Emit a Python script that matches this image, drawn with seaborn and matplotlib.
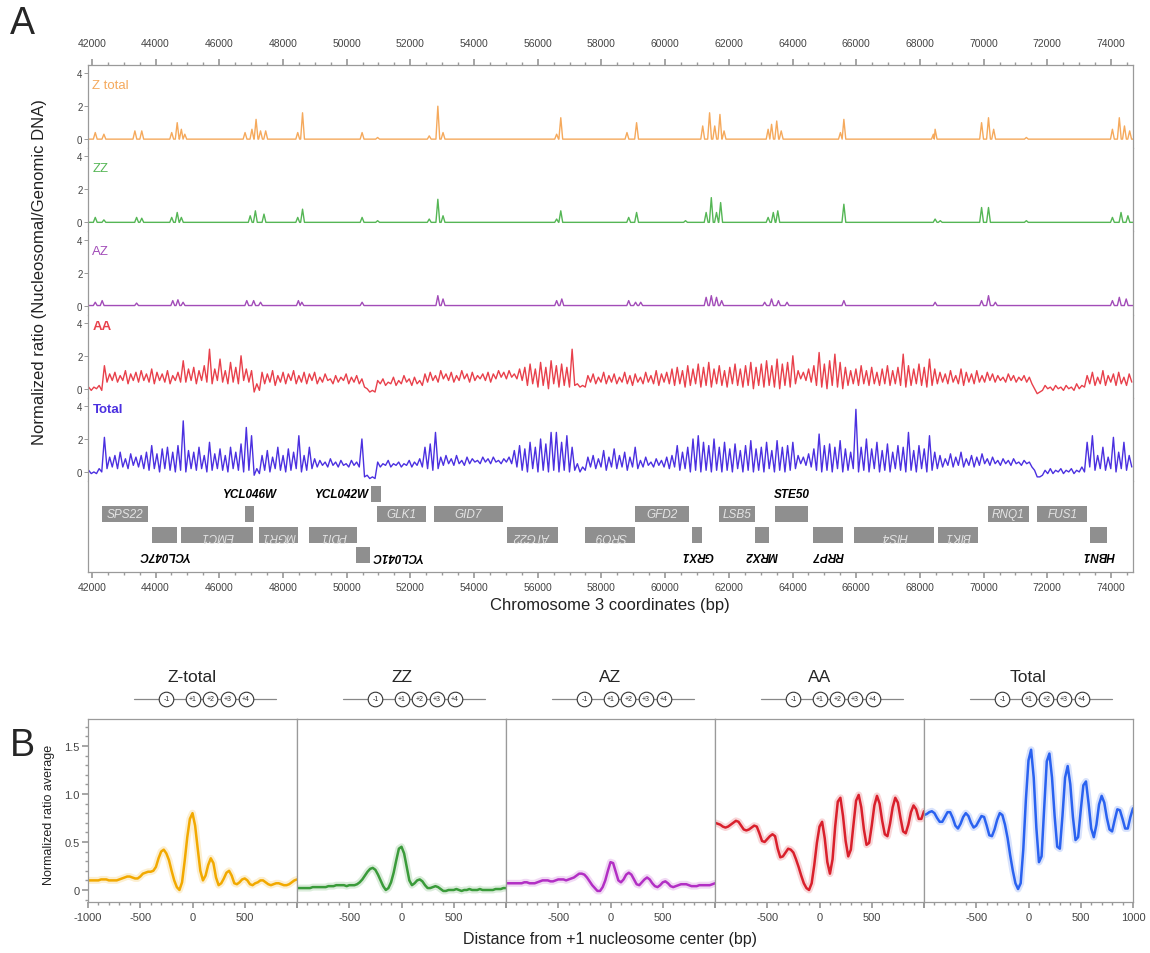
import numpy as np
import seaborn as sns
import matplotlib.pyplot as plt
from matplotlib.transforms import blended_transform_factory
from matplotlib.ticker import MultipleLocator

sns.set_theme(style='white')
plt.rcParams['font.family'] = ['Liberation Sans', 'DejaVu Sans']

# PANEL A DATA ------------------------------------------------------------
# sparse peaks of the Z containing tracks: position (bp) and height
zt_pos = [42108, 42379, 43352, 43568, 44508, 44681, 44811, 44919, 46811, 47027, 47157, 47297, 47459,
          48465, 48616, 50486, 50973, 52594, 52864, 53027, 56594, 56724,
          58802, 59104, 61180, 61396, 61558, 61721, 61850, 63234, 63342, 63504, 63645,
          65504, 65612, 68423, 68477, 69936, 70153, 70315, 71342, 74044, 74260, 74422, 74585]
zt_h = [0.4, 0.3, 0.5, 0.5, 0.4, 1.0, 0.6, 0.3, 0.4, 0.6, 1.2, 0.5, 0.5,
        0.4, 1.6, 0.4, 0.1, 0.2, 2.0, 0.4, 0.3, 1.3,
        0.4, 1.0, 0.8, 1.6, 0.8, 1.5, 0.5, 0.6, 0.9, 1.1, 0.5,
        0.4, 1.2, 0.3, 0.6, 1.0, 1.3, 0.6, 0.1, 0.6, 1.3, 0.8, 0.5]

zz_pos = [42108, 42379, 43406, 43568, 44508, 44681, 44811, 46973, 47135, 47405, 48465, 48616,
          50486, 50973, 52594, 52864, 53027, 56594, 56724,
          58856, 59104, 60640, 61288, 61450, 61613, 61743, 63234, 63396, 63537, 65612,
          68477, 68639, 69936, 70153, 71342, 74044, 74314, 74530]
zz_h = [0.3, 0.15, 0.3, 0.25, 0.3, 0.6, 0.3, 0.4, 0.7, 0.5, 0.3, 0.8,
        0.3, 0.1, 0.2, 1.4, 0.4, 0.2, 0.7,
        0.3, 0.6, 0.1, 0.6, 1.5, 0.6, 1.2, 0.3, 0.6, 0.7, 1.1,
        0.2, 0.1, 0.9, 0.9, 0.1, 0.3, 0.6, 0.4]

az_pos = [42108, 42325, 43406, 44541, 44703, 44865, 46865, 47081, 47297, 48486, 48594,
          50486, 52864, 53027, 56594, 56756,
          58856, 59072, 59234, 61288, 61450, 61613, 61775, 63126, 63342, 63558, 63828,
          65612, 68477, 69936, 70153, 70369, 74044, 74260, 74477]
az_h = [0.2, 0.3, 0.15, 0.3, 0.35, 0.2, 0.3, 0.3, 0.2, 0.3, 0.2,
        0.2, 0.6, 0.4, 0.3, 0.4,
        0.3, 0.2, 0.2, 0.5, 0.6, 0.5, 0.3, 0.2, 0.4, 0.3, 0.2,
        0.3, 0.2, 0.3, 0.6, 0.2, 0.3, 0.5, 0.4]

# AA and Total: one nucleosome peak and the linker trough after it, ~165 bp apart
aa_peak = [0.1, 0.1, 0.2, 1.4, 0.9, 1.0, 0.8, 1.1, 0.9, 1.0,
           1.1, 0.9, 1.2, 1.0, 0.9, 1.1, 0.8, 1.0, 1.7, 1.2,
           1.3, 1.1, 1.4, 2.4, 1.2, 1.8, 1.1, 1.6, 1.3, 2.0,
           1.2, 1.1, 0.3, 1.0, 0.9, 1.1, 0.8, 1.0, 0.9, 1.1,
           0.8, 1.0, 0.9, 1.0, 0.7, 0.9, 0.6, 0.8, 0.7, 0.9,
           0.7, 0.8, 0.6, 0.0, -0.1, 0.5, 0.6, 0.4, 0.7, 0.5,
           0.8, 0.6, 0.7, 0.5, 0.9, 1.0, 0.8, 1.1, 0.9, 1.0,
           0.8, 1.1, 0.9, 1.0, 0.8, 0.9, 1.0, 0.9, 1.1, 1.0,
           1.1, 0.9, 1.2, 1.3, 1.5, 1.2, 1.6, 1.3, 1.7, 1.4,
           1.5, 1.3, 2.4, 0.3, 0.2, 0.8, 0.9, 0.7, 1.0, 0.8,
           0.9, 0.7, 1.0, 0.8, 0.9, 0.7, 1.0, 0.8, 1.1, 0.9,
           1.0, 1.2, 1.3, 1.1, 1.4, 1.2, 1.5, 1.3, 1.6, 1.2,
           1.4, 1.1, 1.3, 1.5, 1.2, 1.4, 1.6, 1.3, 1.5, 1.7,
           1.4, 1.8, 1.5, 1.6, 2.0, 1.1, 1.0, 1.2, 1.4, 2.2,
           1.5, 1.7, 2.1, 1.6, 1.3, 1.1, 1.2, 1.4, 1.1, 1.3,
           1.0, 1.2, 1.4, 1.1, 1.3, 2.1, 1.4, 1.2, 1.5, 1.3,
           1.8, 1.2, 1.0, 0.9, 1.1, 0.8, 1.2, 1.0, 0.9, 1.1,
           0.8, 1.0, 0.9, 0.8, 0.7, 0.9, 0.8, 0.7, 0.8, 0.7,
           0.0, -0.2, 0.2, 0.1, 0.2, 0.1, 0.2, 0.1, 0.3, 0.2,
           0.8, 1.0, 0.7, 1.1, 0.8, 0.9, 1.0, 0.7, 0.9]
aa_trough = [-0.1, 0.0, -0.1, 0.4, 0.5, 0.4, 0.5, 0.3, 0.5, 0.4,
             0.5, 0.4, 0.3, 0.5, 0.4, 0.3, 0.5, 0.4, 0.4, 0.5,
             0.3, 0.5, 0.4, 0.3, 0.5, 0.4, 0.3, 0.4, 0.3, 0.5,
             0.4, -0.2, -0.1, 0.3, 0.4, 0.2, 0.4, 0.3, 0.5, 0.3,
             0.4, 0.3, 0.5, 0.3, 0.4, 0.5, 0.3, 0.4, 0.5, 0.3,
             0.4, 0.3, 0.1, -0.2, -0.2, 0.3, 0.2, 0.3, 0.2, 0.3,
             0.4, 0.2, 0.3, 0.2, 0.4, 0.5, 0.4, 0.6, 0.5, 0.4,
             0.5, 0.6, 0.4, 0.5, 0.6, 0.5, 0.4, 0.6, 0.7, 0.6,
             0.7, 0.6, 0.5, 0.2, 0.3, 0.1, 0.2, 0.0, 0.3, 0.1,
             0.2, 0.1, 0.2, 0.1, 0.1, 0.4, 0.3, 0.4, 0.3, 0.4,
             0.3, 0.4, 0.3, 0.2, 0.4, 0.3, 0.4, 0.3, 0.2, 0.4,
             0.3, 0.2, 0.3, 0.1, 0.2, 0.3, 0.1, 0.2, 0.1, 0.3,
             0.2, 0.1, 0.3, 0.2, 0.1, 0.2, 0.0, 0.2, 0.1, 0.2,
             0.1, 0.0, 0.2, 0.1, 0.3, 0.6, 0.5, 0.4, 0.2, 0.1,
             0.0, 0.2, 0.1, 0.0, 0.2, 0.3, 0.2, 0.3, 0.2, 0.3,
             0.2, 0.3, 0.2, 0.3, 0.2, 0.1, 0.2, 0.3, 0.2, 0.1,
             0.2, 0.3, 0.4, 0.3, 0.4, 0.3, 0.2, 0.4, 0.3, 0.4,
             0.4, 0.5, 0.4, 0.5, 0.4, 0.5, 0.4, 0.5, 0.4, 0.3,
             -0.3, -0.1, 0.0, -0.1, 0.0, -0.1, 0.0, -0.1, 0.0, 0.1,
             0.3, 0.2, 0.3, 0.2, 0.4, 0.2, 0.3, 0.2, 0.4]
tot_peak = [0.1, 0.0, 0.2, 2.1, 0.9, 1.0, 1.2, 0.8, 1.1, 0.9,
            1.0, 1.2, 1.6, 1.1, 1.4, 1.5, 1.2, 1.6, 3.1, 1.3,
            1.2, 1.5, 1.0, 1.8, 1.1, 1.4, 1.0, 1.5, 1.2, 1.7,
            2.7, 2.2, 0.2, 1.0, 1.3, 0.9, 1.5, 1.0, 1.4, 1.2,
            2.2, 1.0, 1.5, 0.8, 0.7, 0.6, 0.8, 0.6, 0.7, 0.5,
            0.7, 0.6, 2.0, -0.2, -0.3, 0.6, 0.5, 0.7, 0.5, 0.6,
            0.5, 0.7, 0.6, 0.8, 1.5, 1.7, 2.4, 0.9, 1.0, 0.8,
            1.0, 0.7, 0.9, 0.8, 0.7, 0.9, 0.8, 0.9, 0.7, 0.8,
            0.9, 1.3, 1.6, 1.4, 1.8, 1.5, 2.0, 1.7, 2.4, 2.4,
            1.8, 2.2, 1.5, 0.5, 0.3, 0.9, 1.0, 0.8, 1.3, 0.9,
            1.4, 1.0, 1.2, 0.9, 1.5, 0.7, 0.9, 0.6, 0.8, 0.7,
            0.9, 1.0, 1.6, 1.2, 1.5, 2.0, 2.2, 1.8, 1.6, 2.0,
            1.5, 1.8, 1.4, 1.7, 1.3, 1.6, 1.9, 1.4, 1.5, 1.8,
            1.3, 1.9, 1.5, 1.6, 1.8, 1.0, 0.9, 1.1, 1.4, 2.3,
            1.6, 1.7, 1.5, 1.9, 1.4, 1.2, 3.8, 1.5, 2.0, 1.4,
            1.8, 1.3, 1.7, 1.2, 1.6, 1.5, 2.4, 1.3, 1.6, 1.4,
            2.2, 1.2, 1.0, 0.8, 1.1, 0.9, 1.2, 0.8, 1.0, 0.9,
            1.1, 0.8, 0.9, 0.7, 0.8, 0.7, 0.8, 0.6, 0.7, 0.6,
            0.1, -0.3, 0.1, 0.2, 0.1, 0.2, 0.1, 0.2, 0.1, 0.3,
            1.8, 2.2, 1.0, 1.5, 0.9, 2.1, 1.2, 1.8, 1.0]
tot_trough = [-0.1, -0.1, 0.0, 0.2, 0.3, 0.2, 0.3, 0.2, 0.4, 0.3,
              0.2, 0.1, 0.2, 0.0, 0.2, 0.1, 0.0, 0.1, 0.0, 0.2,
              0.1, 0.2, 0.0, 0.1, 0.2, 0.1, 0.0, 0.2, 0.1, 0.0,
              0.1, -0.2, -0.1, 0.1, 0.0, 0.2, 0.1, 0.0, 0.1, 0.2,
              0.0, 0.1, 0.2, 0.3, 0.4, 0.3, 0.4, 0.3, 0.4, 0.3,
              0.4, 0.3, -0.3, -0.4, -0.4, 0.3, 0.4, 0.3, 0.4, 0.3,
              0.4, 0.3, 0.4, 0.3, 0.2, 0.1, 0.2, 0.4, 0.5, 0.4,
              0.5, 0.4, 0.5, 0.6, 0.5, 0.6, 0.5, 0.6, 0.5, 0.6,
              0.5, 0.3, 0.1, 0.0, 0.2, 0.0, 0.1, 0.0, 0.1, 0.0,
              0.1, 0.0, 0.1, 0.0, 0.1, 0.3, 0.2, 0.3, 0.1, 0.3,
              0.2, 0.3, 0.1, 0.3, 0.2, 0.3, 0.4, 0.3, 0.4, 0.3,
              0.2, 0.3, 0.1, 0.2, 0.0, 0.1, 0.0, 0.1, 0.0, 0.1,
              0.0, 0.1, 0.0, 0.2, 0.0, 0.1, 0.0, 0.1, 0.0, 0.2,
              0.0, 0.1, 0.0, 0.1, 0.2, 0.5, 0.4, 0.3, 0.1, 0.0,
              0.1, 0.0, 0.2, 0.0, 0.1, 0.2, 0.0, 0.1, 0.0, 0.2,
              0.0, 0.1, 0.0, 0.2, 0.1, 0.0, 0.1, 0.0, 0.2, 0.0,
              0.1, 0.2, 0.3, 0.4, 0.3, 0.4, 0.3, 0.4, 0.3, 0.4,
              0.5, 0.4, 0.5, 0.4, 0.5, 0.4, 0.5, 0.4, 0.5, 0.3,
              -0.3, -0.2, -0.1, -0.1, 0.0, -0.1, 0.0, -0.1, 0.0, 0.0,
              0.3, 0.1, 0.2, 0.1, 0.2, 0.0, 0.2, 0.1, 0.3]

# genes: name, start, end (bp), strand
gene_names = ['SPS22', 'YCL047C', 'EMC1', 'YCL046W', 'MGR1', 'PDI1', 'YCL042W', 'YCL041C',
              'GLK1', 'GID7', 'ATG22', 'SRO9', 'GFD2', 'GRX1', 'LSB5', 'MRX2', 'STE50',
              'RRP7', 'HIS4', 'BIK1', 'RNQ1', 'FUS1', 'HBN1']
gene_start = [42310, 43875, 44810, 46810, 47250, 48810, 50750, 50280, 50940, 52750, 55030, 57500,
              59060, 60840, 61690, 62810, 63440, 64650, 65940, 68560, 70125, 71690, 73340]
gene_end = [43750, 44660, 47060, 47090, 48470, 50340, 51090, 50720, 52500, 54910, 56625, 59060,
            60750, 61160, 62810, 63250, 64500, 65600, 68440, 69810, 71410, 73250, 73880]
gene_strand = ['W', 'C', 'C', 'W', 'C', 'C', 'W', 'C', 'W', 'W', 'C', 'C',
               'W', 'C', 'W', 'C', 'W', 'C', 'C', 'C', 'W', 'W', 'C']

# PANEL B DATA: profile values every 25 bp from -1000 to 1000 ------------
ztot_avg = [0.10, 0.10, 0.10, 0.10, 0.10, 0.11, 0.11, 0.11,
            0.10, 0.10, 0.10, 0.10, 0.11, 0.12, 0.13, 0.14,
            0.14, 0.13, 0.12, 0.12, 0.14, 0.17, 0.18, 0.19,
            0.19, 0.20, 0.24, 0.33, 0.40, 0.42, 0.38, 0.31,
            0.20, 0.10, 0.03, 0.00, 0.08, 0.30, 0.55, 0.74,
            0.80, 0.67, 0.43, 0.20, 0.10, 0.15, 0.26, 0.33,
            0.28, 0.13, 0.05, 0.07, 0.12, 0.18, 0.20, 0.15,
            0.07, 0.06, 0.08, 0.11, 0.12, 0.10, 0.06, 0.05,
            0.07, 0.08, 0.10, 0.10, 0.08, 0.06, 0.05, 0.06,
            0.07, 0.07, 0.06, 0.05, 0.05, 0.06, 0.08, 0.10,
            0.11]
zz_avg = [0.02, 0.02, 0.02, 0.02, 0.02, 0.02, 0.03, 0.03,
          0.03, 0.03, 0.03, 0.03, 0.04, 0.04, 0.04, 0.05,
          0.05, 0.05, 0.05, 0.04, 0.05, 0.05, 0.05, 0.06,
          0.08, 0.11, 0.15, 0.19, 0.22, 0.23, 0.21, 0.16,
          0.10, 0.04, 0.00, 0.02, 0.08, 0.18, 0.31, 0.43,
          0.45, 0.38, 0.24, 0.10, 0.05, 0.07, 0.10, 0.11,
          0.09, 0.05, 0.02, 0.02, 0.03, 0.04, 0.03, 0.01,
          -0.01, -0.01, 0.00, 0.00, 0.00, 0.01, 0.00, -0.01,
          0.00, 0.00, 0.01, 0.00, 0.00, 0.00, 0.01, 0.00,
          0.00, 0.00, 0.00, 0.00, 0.01, 0.01, 0.01, 0.02,
          0.02]
az_avg = [0.07, 0.07, 0.07, 0.07, 0.07, 0.07, 0.07, 0.08,
          0.08, 0.07, 0.07, 0.07, 0.08, 0.09, 0.10, 0.10,
          0.10, 0.09, 0.09, 0.10, 0.11, 0.11, 0.11, 0.10,
          0.11, 0.12, 0.13, 0.15, 0.17, 0.17, 0.16, 0.13,
          0.09, 0.05, 0.02, -0.01, -0.01, 0.03, 0.10, 0.20,
          0.29, 0.28, 0.19, 0.10, 0.08, 0.11, 0.16, 0.18,
          0.16, 0.11, 0.06, 0.05, 0.08, 0.11, 0.13, 0.11,
          0.07, 0.04, 0.03, 0.05, 0.08, 0.09, 0.07, 0.04,
          0.03, 0.04, 0.05, 0.06, 0.06, 0.06, 0.05, 0.04,
          0.04, 0.04, 0.05, 0.05, 0.05, 0.05, 0.05, 0.06,
          0.07]
aa_avg = [0.70, 0.69, 0.68, 0.66, 0.65, 0.66, 0.68, 0.70,
          0.72, 0.71, 0.67, 0.63, 0.62, 0.63, 0.65, 0.67,
          0.66, 0.59, 0.51, 0.50, 0.53, 0.56, 0.58, 0.56,
          0.43, 0.34, 0.35, 0.39, 0.43, 0.42, 0.39, 0.32,
          0.24, 0.15, 0.07, 0.02, 0.00, 0.07, 0.26, 0.49,
          0.66, 0.71, 0.54, 0.29, 0.17, 0.32, 0.66, 0.92,
          0.96, 0.77, 0.51, 0.35, 0.42, 0.68, 0.93, 0.99,
          0.86, 0.63, 0.47, 0.49, 0.67, 0.88, 0.98, 0.90,
          0.72, 0.58, 0.56, 0.69, 0.86, 0.96, 0.91, 0.75,
          0.61, 0.59, 0.68, 0.81, 0.88, 0.84, 0.74, 0.74,
          0.82]
tot_avg = [0.78, 0.79, 0.81, 0.82, 0.80, 0.75, 0.71, 0.71,
           0.76, 0.81, 0.81, 0.75, 0.67, 0.64, 0.69, 0.76,
           0.80, 0.77, 0.70, 0.65, 0.67, 0.72, 0.77, 0.76,
           0.67, 0.57, 0.56, 0.63, 0.73, 0.80, 0.78, 0.68,
           0.54, 0.36, 0.20, 0.07, 0.01, 0.07, 0.42, 0.94,
           1.35, 1.46, 1.17, 0.65, 0.29, 0.35, 0.85, 1.34,
           1.42, 1.17, 0.77, 0.45, 0.43, 0.77, 1.17, 1.29,
           1.10, 0.76, 0.52, 0.55, 0.83, 1.09, 1.13, 0.90,
           0.64, 0.55, 0.68, 0.89, 0.98, 0.91, 0.75, 0.63,
           0.61, 0.73, 0.84, 0.83, 0.74, 0.64, 0.64, 0.76,
           0.85]
prof_pos = np.arange(-1000, 1001, 25)
nuc_pos = [-250, 0, 170, 340, 510]
nuc_lab = ['-1', '+1', '+2', '+3', '+4']

# FIGURE -----------------------------------------------------------------
W, H = 1150, 954
fig = plt.figure(figsize=(W / 100, H / 100), dpi=100)
GRAY = '#9a9a9a'
TXT = '#444444'


def px_box(left, top, right, bottom):
    return [left / W, 1 - bottom / H, (right - left) / W, (bottom - top) / H]


XMIN, XMAX = 41880, 74690


def spike_line(pos, h):
    order = np.argsort(pos)
    p = np.asarray(pos, float)[order]
    v = np.asarray(h, float)[order]
    xs, ys = [XMIN], [0.0]
    for j in range(len(p)):
        lo = p[j] - 60 if j == 0 else max(p[j] - 60, (p[j - 1] + p[j]) / 2)
        hi = p[j] + 60 if j == len(p) - 1 else min(p[j] + 60, (p[j] + p[j + 1]) / 2)
        xs += [lo, p[j], hi]
        ys += [0.0, v[j], 0.0]
    xs.append(XMAX)
    ys.append(0.0)
    return np.array(xs), np.array(ys)


def nuc_line(peaks, troughs):
    n = min(len(peaks), len(troughs))
    x0 = XMIN + 20 + 165 * np.arange(n)
    xs = np.column_stack([x0, x0 + 82]).ravel()
    ys = np.column_stack([peaks[:n], troughs[:n]]).ravel()
    return xs, ys


fig.text(10 / W, 1 - 24 / H, 'A', fontsize=27, va='center', ha='left')
fig.text(10 / W, 1 - 746 / H, 'B', fontsize=27, va='center', ha='left')

# PART A: TRACKS
track_names = ['Z total', 'ZZ', 'AZ', 'AA', 'Total']
track_cols = ['#f5a95c', '#55b655', '#a24cb8', '#e8404b', '#4b30e0']
track_data = [spike_line(zt_pos, zt_h), spike_line(zz_pos, zz_h), spike_line(az_pos, az_h),
              nuc_line(aa_peak, aa_trough), nuc_line(tot_peak, tot_trough)]
top, bot = 66, 482
step = (bot - top) / 5
for i in range(5):
    ax = fig.add_axes(px_box(88, top + i * step, 1133, top + (i + 1) * step))
    xs, ys = track_data[i]
    sns.lineplot(x=xs, y=ys, ax=ax, color=track_cols[i], linewidth=1.0,
                 estimator=None, sort=False)
    ax.set_xlim(XMIN, XMAX)
    ax.set_ylim(-0.55, 4.5)
    ax.set_yticks([0, 2, 4])
    ax.set_yticklabels(['0', '2', '4'])
    ax.tick_params(axis='y', left=True, length=3, width=0.7, colors=GRAY,
                   labelcolor=TXT, labelsize=7, pad=1)
    for side in ['left', 'right', 'top', 'bottom']:
        ax.spines[side].set_color(GRAY)
        ax.spines[side].set_linewidth(0.9)
    ax.spines['bottom'].set_visible(False)
    if i == 0:
        ax.xaxis.set_ticks_position('top')
        ax.set_xticks(np.arange(42000, 74001, 2000))
        ax.xaxis.set_minor_locator(MultipleLocator(500))
        ax.tick_params(axis='x', which='both', top=True, bottom=False, labeltop=True,
                       labelbottom=False, colors=GRAY, labelcolor=TXT, labelsize=7.5, pad=8)
        ax.tick_params(axis='x', which='major', length=4)
        ax.tick_params(axis='x', which='minor', length=2)
    else:
        ax.spines['top'].set_visible(False)
        ax.set_xticks([])
    ax.set_xlabel('')
    ax.set_ylabel('')
    bold = 'bold' if i >= 3 else 'normal'
    ydrop = 3.3 if i < 3 else 3.8
    ax.text(42020, ydrop, track_names[i], color=track_cols[i], fontsize=9.5,
            fontweight=bold, ha='left', va='center')

# PART A: GENES
label_place = {'SPS22': 'in', 'YCL047C': 'below', 'EMC1': 'in', 'YCL046W': 'above', 'MGR1': 'in',
               'PDI1': 'in', 'YCL042W': 'left', 'YCL041C': 'right', 'GLK1': 'in', 'GID7': 'in',
               'ATG22': 'in', 'SRO9': 'in', 'GFD2': 'in', 'GRX1': 'below', 'LSB5': 'in',
               'MRX2': 'below', 'STE50': 'above', 'RRP7': 'below', 'HIS4': 'in', 'BIK1': 'in',
               'RNQ1': 'in', 'FUS1': 'in', 'HBN1': 'below'}
gene_row = {'YCL042W': 0, 'YCL041C': 3}
axg = fig.add_axes(px_box(88, 482, 1133, 573))
axg.set_xlim(XMIN, XMAX)
axg.set_ylim(3.83, -0.63)
for name, s, e, st in zip(gene_names, gene_start, gene_end, gene_strand):
    row = gene_row.get(name, 1 if st == 'W' else 2)
    axg.barh(row, e - s, left=s, height=0.8, color='#8f8f8f', edgecolor='none')
    place = label_place[name]
    rot = 180 if st == 'C' else 0
    mid = (s + e) / 2
    if place == 'in':
        axg.text(mid, row, name, color='#e4e4e4', fontsize=8.5, style='italic',
                 ha='center', va='center', rotation=rot)
    else:
        kw = dict(color='black', fontsize=8.5, style='italic', fontweight='bold',
                  va='center', rotation=rot)
        if place == 'above':
            axg.text(mid, row - 1, name, ha='center', **kw)
        elif place == 'below':
            axg.text(mid, row + 0.95, name, ha='center', **kw)
        elif place == 'left':
            axg.text(s - 60, row, name, ha='right', **kw)
        else:
            axg.text(e + 60, row, name, ha='left', **kw)
for side in ['left', 'right', 'bottom']:
    axg.spines[side].set_color(GRAY)
    axg.spines[side].set_linewidth(0.9)
axg.spines['top'].set_visible(False)
axg.set_yticks([])
axg.set_xticks(np.arange(42000, 74001, 2000))
axg.xaxis.set_minor_locator(MultipleLocator(500))
axg.tick_params(axis='x', which='both', bottom=True, colors=GRAY, labelcolor=TXT,
                labelsize=7.5, pad=3)
axg.tick_params(axis='x', which='major', length=4)
axg.tick_params(axis='x', which='minor', length=2)

fig.text(40 / W, 1 - 272 / H, 'Normalized ratio (Nucleosomal/Genomic DNA)', rotation=90,
         fontsize=12, ha='center', va='center', color='#222222')
fig.text(610 / W, 1 - 606 / H, 'Chromosome 3 coordinates (bp)', fontsize=12,
         ha='center', va='center', color='#222222')

# PART B: PROFILES
prof_names = ['Z-total', 'ZZ', 'AZ', 'AA', 'Total']
prof_cols = ['#f2a900', '#3a9b3a', '#b22fc4', '#d9202c', '#2a62f0']
prof_vals = [ztot_avg, zz_avg, az_avg, aa_avg, tot_avg]
pw = (1133 - 88) / 5
for j in range(5):
    ax = fig.add_axes(px_box(88 + pw * j, 720, 88 + pw * (j + 1), 903))
    xv = prof_pos[:len(prof_vals[j])]
    sns.lineplot(x=xv, y=prof_vals[j], ax=ax, color=prof_cols[j], linewidth=5,
                 alpha=0.18, estimator=None, sort=False)
    sns.lineplot(x=xv, y=prof_vals[j], ax=ax, color=prof_cols[j], linewidth=1.8,
                 estimator=None, sort=False)
    ax.set_xlim(-1000, 1000)
    ax.set_ylim(-0.125, 1.78)
    ax.set_xticks([-1000, -500, 0, 500, 1000])
    ax.set_xticklabels(['-1000' if j == 0 else '', '-500', '0', '500', '1000' if j == 4 else ''])
    ax.xaxis.set_minor_locator(MultipleLocator(100))
    ax.tick_params(axis='x', which='both', bottom=True, colors=GRAY, labelcolor=TXT,
                   labelsize=8, pad=3)
    ax.tick_params(axis='x', which='major', length=4)
    ax.tick_params(axis='x', which='minor', length=2)
    if j == 0:
        ax.set_yticks([0, 0.5, 1.0, 1.5])
        ax.set_yticklabels(['0', '0.5', '1.0', '1.5'])
        ax.yaxis.set_minor_locator(MultipleLocator(0.1))
        ax.tick_params(axis='y', which='both', left=True, colors=GRAY, labelcolor=TXT,
                       labelsize=8, pad=2)
        ax.tick_params(axis='y', which='major', length=4)
        ax.tick_params(axis='y', which='minor', length=2)
    else:
        ax.set_yticks([])
    for side in ['left', 'right', 'top', 'bottom']:
        ax.spines[side].set_color(GRAY)
        ax.spines[side].set_linewidth(0.9)
    ax.set_xlabel('')
    ax.set_ylabel('')
    tr = blended_transform_factory(ax.transData, ax.transAxes)
    ax.plot([-560, 800], [1.11, 1.11], transform=tr, color='#888888', lw=0.9, clip_on=False)
    for p, lab in zip(nuc_pos, nuc_lab):
        ax.plot([p], [1.11], transform=tr, marker='o', ms=10.5, mfc='white', mec='#333333',
                mew=0.8, clip_on=False, linestyle='none')
        ax.text(p, 1.11, lab, transform=tr, fontsize=5, ha='center', va='center')
    ax.text(0, 1.23, prof_names[j], transform=tr, fontsize=12.5, ha='center', va='center')

fig.text(49 / W, 1 - 815 / H, 'Normalized ratio average', rotation=90, fontsize=9,
         ha='center', va='center', color='#222222')
fig.text(610 / W, 1 - 940 / H, 'Distance from +1 nucleosome center (bp)', fontsize=11.5,
         ha='center', va='center', color='#222222')

fig.savefig('out.png', dpi=100, facecolor='white')
